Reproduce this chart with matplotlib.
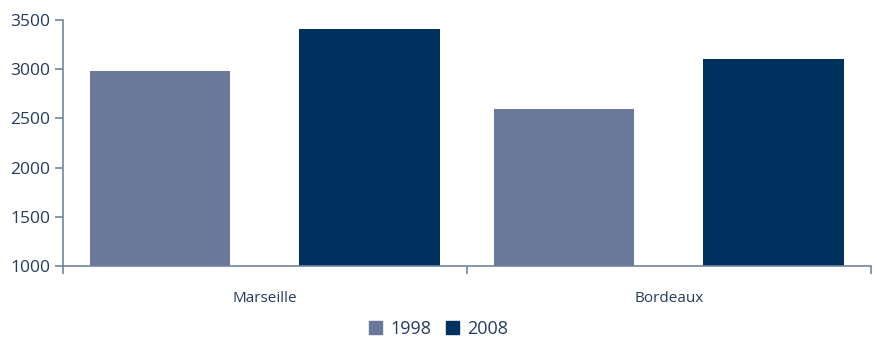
"""Average value per city, 1998 vs 2008 — grouped bars."""

import matplotlib.pyplot as plt
import numpy as np
from matplotlib.patches import Patch

# ── data ──────────────────────────────────────────────────────────────────

cities = ["Marseille", "Bordeaux"]
years = ["1998", "2008"]
values_1998 = [2980, 2600]
values_2008 = [3410, 3100]
y_ticks = [1000, 1500, 2000, 2500, 3000, 3500]

# ── style ─────────────────────────────────────────────────────────────────

plt.rcParams["font.family"] = ["Open Sans", "DejaVu Sans"]
COLORS = {"1998": "#6a7899", "2008": "#00305e"}
AXIS_COLOR = "#6f84a0"
TEXT_COLOR = "#243b60"

# ── plotting ──────────────────────────────────────────────────────────────

fig = plt.figure(figsize=(8.77, 3.41), dpi=100)
ax = fig.add_axes([0.0718, 0.22, 0.9212, 0.721])

x = np.arange(len(cities))
width = 0.347
offset = 0.259
ax.bar(x - offset, values_1998, width, bottom=0, color=COLORS["1998"], zorder=1)
ax.bar(x + offset, values_2008, width, bottom=0, color=COLORS["2008"], zorder=1)

ax.set_xlim(-0.5, len(cities) - 0.5)
ax.set_ylim(1000, 3500)
ax.set_yticks(y_ticks)
ax.set_yticklabels([str(v) for v in y_ticks], fontsize=12.5, color=TEXT_COLOR)

# category boundaries carry the ticks, labels sit in the middle
ax.set_xticks(np.arange(len(cities) + 1) - 0.5)
ax.set_xticklabels([])
ax.set_xticks(x, minor=True)
ax.set_xticklabels(cities, minor=True, fontsize=11, color=TEXT_COLOR)
ax.tick_params(axis="x", which="minor", length=0, pad=18)
ax.tick_params(axis="x", which="major", length=6, width=1.2, color=AXIS_COLOR)
ax.tick_params(axis="y", length=6, width=1.2, color=AXIS_COLOR, pad=3)

for side in ("top", "right"):
    ax.spines[side].set_visible(False)
for side in ("left", "bottom"):
    ax.spines[side].set_color(AXIS_COLOR)
    ax.spines[side].set_linewidth(1.2)
ax.spines["bottom"].set_zorder(3)

handles = [Patch(color=COLORS[y]) for y in years]
fig.legend(
    handles, years, loc="center", bbox_to_anchor=(0.5, 0.035), ncol=2,
    frameon=False, fontsize=13, handlelength=0.75, handleheight=0.75,
    handletextpad=0.45, columnspacing=0.8, labelcolor=TEXT_COLOR,
)

fig.savefig("out.png", dpi=100)
plt.close(fig)
